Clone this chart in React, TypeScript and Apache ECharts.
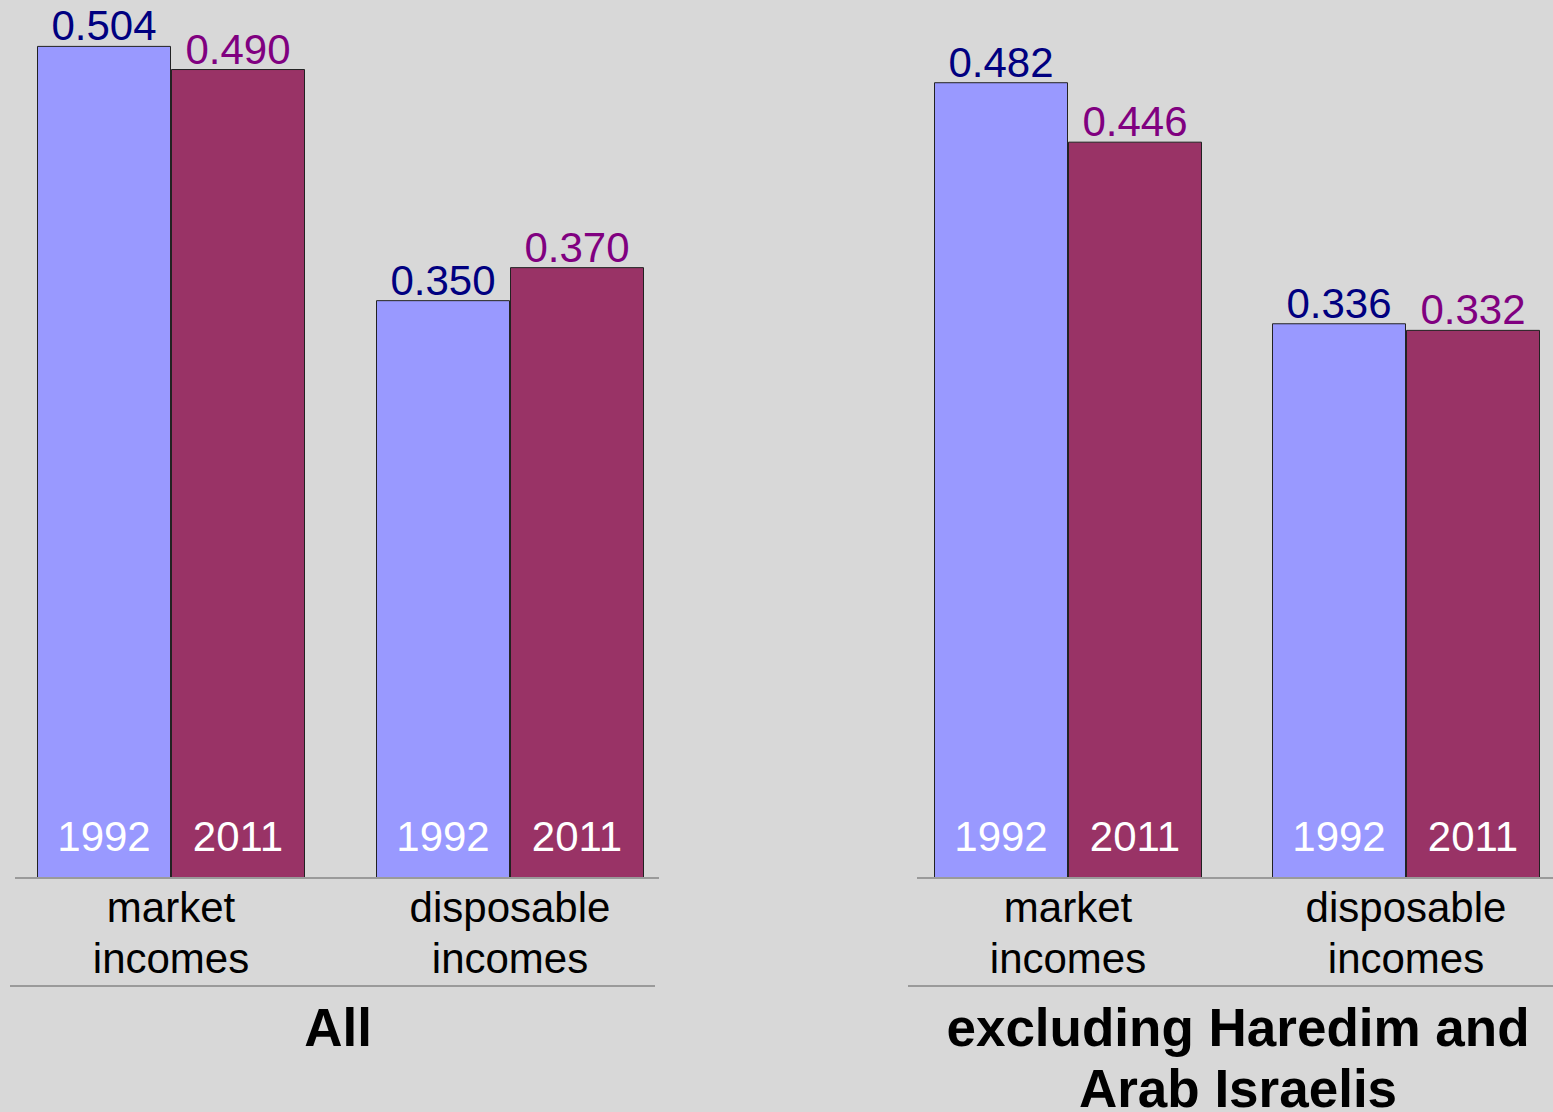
import React, { useEffect, useRef } from "react";
import * as echarts from "echarts";

const categories = ["market\nincomes", "disposable\nincomes"];
const seriesNames = ["1992", "2011"];
const allValues1992 = [0.504, 0.35];
const allValues2011 = [0.49, 0.37];
const exclValues1992 = [0.482, 0.336];
const exclValues2011 = [0.446, 0.332];
const panelTitles = ["All", "excluding Haredim and\nArab Israelis"];

const FONT = "'Liberation Sans', Arial, sans-serif";
const COLOR_1992 = "#9999FF";
const COLOR_2011 = "#993366";
const LABEL_1992 = "#000080";
const LABEL_2011 = "#800080";

const CANVAS_W = 1600;

export default function App() {
  const ref = useRef<HTMLDivElement>(null);
  useEffect(() => {
    if (!ref.current) return;
    const chart = echarts.init(ref.current, null, { renderer: "svg" });

    const grids = [
      { left: 1.5, width: 678, top: 36, bottom: 234 },
      { left: 899, width: 676, top: 36, bottom: 234 },
    ];

    const xAxes: any[] = [];
    const yAxes: any[] = [];
    grids.forEach((_, gi) => {
      xAxes.push({
        type: "category",
        gridIndex: gi,
        data: categories,
        axisLine: { show: false },
        axisTick: { show: false },
        axisLabel: {
          fontSize: 42,
          lineHeight: 51,
          color: "#000",
          fontFamily: FONT,
          margin: 4,
          interval: 0,
        },
      });
      xAxes.push({
        type: "category",
        gridIndex: gi,
        data: categories,
        show: false,
      });
      yAxes.push({
        type: "value",
        gridIndex: gi,
        min: 0,
        max: 0.51,
        show: false,
        splitLine: { show: false },
      });
    });

    const panelData = [
      [allValues1992, allValues2011],
      [exclValues1992, exclValues2011],
    ];
    const barColors = [COLOR_1992, COLOR_2011];
    const labelColors = [LABEL_1992, LABEL_2011];

    const series: any[] = [];
    panelData.forEach((pd, gi) => {
      pd.forEach((vals, si) => {
        series.push({
          type: "bar",
          name: seriesNames[si],
          xAxisIndex: gi * 2,
          yAxisIndex: gi,
          data: vals,
          barWidth: 134,
          barGap: "0%",
          itemStyle: { color: barColors[si], borderColor: "#222", borderWidth: 1 },
          label: {
            show: true,
            position: "top",
            distance: -1,
            fontSize: 42,
            fontFamily: FONT,
            color: labelColors[si],
            formatter: (p: any) => p.value.toFixed(3),
          },
        });
      });
      pd.forEach((vals, si) => {
        series.push({
          type: "bar",
          name: seriesNames[si],
          xAxisIndex: gi * 2 + 1,
          yAxisIndex: gi,
          data: vals,
          barWidth: 134,
          barGap: "0%",
          itemStyle: { color: "rgba(0,0,0,0)" },
          silent: true,
          z: 5,
          label: {
            show: true,
            position: "insideBottom",
            distance: 21,
            fontSize: 42,
            fontFamily: FONT,
            color: "#fff",
            formatter: "{a}",
          },
        });
      });
    });

    const lineStyle = { stroke: "#9a9a9a", lineWidth: 2 };
    const option: any = {
      animation: false,
      backgroundColor: "#d8d8d8",
      grid: grids,
      xAxis: xAxes,
      yAxis: yAxes,
      series,
      graphic: [
        { type: "line", shape: { x1: 15, y1: 878, x2: 659, y2: 878 }, style: lineStyle, z: 10 },
        { type: "line", shape: { x1: 10, y1: 986, x2: 655, y2: 986 }, style: lineStyle },
        { type: "line", shape: { x1: 917, y1: 878, x2: CANVAS_W, y2: 878 }, style: lineStyle, z: 10 },
        { type: "line", shape: { x1: 908, y1: 986, x2: CANVAS_W, y2: 986 }, style: lineStyle },
        {
          type: "text",
          x: 338,
          y: 1027,
          style: {
            text: panelTitles[0],
            fontSize: 53,
            fontWeight: "bold",
            fontFamily: FONT,
            fill: "#000",
            textAlign: "center",
            textVerticalAlign: "middle",
          },
        },
        {
          type: "text",
          x: 1238,
          y: 1057.5,
          style: {
            text: panelTitles[1],
            fontSize: 53,
            lineHeight: 61,
            fontWeight: "bold",
            fontFamily: FONT,
            fill: "#000",
            textAlign: "center",
            textVerticalAlign: "middle",
          },
        },
      ],
    };
    chart.setOption(option);
    return () => chart.dispose();
  }, []);
  return (
    <div
      style={{
        position: "absolute",
        left: 0,
        top: 0,
        width: 1553,
        height: 1112,
        overflow: "hidden",
      }}
    >
      <div ref={ref} style={{ width: CANVAS_W, height: 1112 }} />
    </div>
  );
}
